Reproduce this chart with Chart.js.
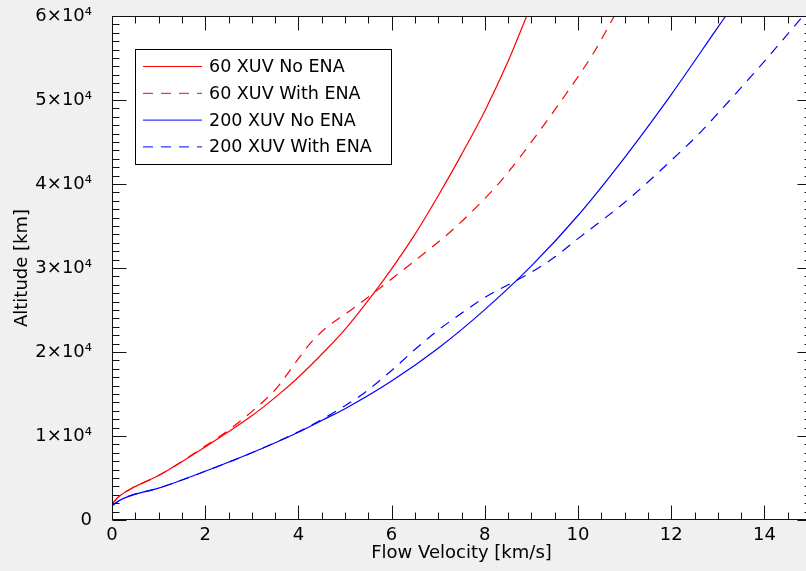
<!DOCTYPE html>
<html><head><meta charset="utf-8">
<script src="https://cdn.jsdelivr.net/npm/chart.js@4/dist/chart.umd.min.js"></script>
<style>html,body{margin:0;padding:0;overflow:hidden;background:#f0f0f0;width:806px;height:571px}canvas{display:block}</style>
</head><body><canvas id="c" width="820" height="571"></canvas>
<script>
// ---- data ----
const xTickValues = [0, 2, 4, 6, 8, 10, 12, 14];
const yTickValues = [0, 10000, 20000, 30000, 40000, 50000, 60000];
const seriesLabels = ['60 XUV No ENA', '60 XUV With ENA', '200 XUV No ENA', '200 XUV With ENA'];

const red60NoV   = [0, 0.15, 0.4, 1, 2, 3, 3.6, 4, 4.6, 5, 5.61, 6, 6.5, 7, 7.5, 8, 8.5, 8.9];
const red60NoAlt = [1900, 2800, 3700, 5300, 8700, 12400, 15040, 17000, 20300, 22700, 26960, 29900, 34000, 38600, 43500, 48700, 54600, 60000];

const red60EnaV   = [0, 0.15, 0.4, 1, 2, 2.5, 3, 3.5, 3.7, 4, 4.25, 4.6, 5, 5.25, 5.6, 6, 6.6, 7.3, 7.9, 8.33, 8.76, 9.6, 10.33, 10.78];
const red60EnaAlt = [1900, 2800, 3700, 5300, 8800, 10700, 12900, 15500, 16900, 19200, 21000, 22900, 24500, 25500, 26960, 28700, 31300, 34500, 37700, 40260, 43240, 49600, 55570, 60000];

const blue200NoV   = [0, 0.15, 0.4, 1, 2, 3, 4, 4.5, 5, 6, 7, 8, 9, 10, 11, 12, 13, 13.17];
const blue200NoAlt = [1700, 2300, 2900, 3800, 5800, 8000, 10450, 11850, 13250, 16550, 20450, 25050, 30250, 36250, 43150, 50650, 58650, 60000];

const blue200EnaV   = [0, 0.15, 0.4, 1, 2, 3, 4, 4.5, 5, 5.36, 6, 6.5, 7, 7.5, 8, 8.5, 9, 9.5, 10, 11, 12, 12.6, 13, 13.9, 14.8];
const blue200EnaAlt = [1700, 2300, 2900, 3800, 5800, 8000, 10500, 11950, 13600, 14900, 17800, 20300, 22600, 24600, 26500, 28000, 29500, 31300, 33500, 37800, 42800, 46000, 48400, 53970, 59800];

const xMax = 15, yMax = 60000, xMinorStep = 0.5, yMinorStep = 1000;

const pts = (vs, as) => vs.map((v, i) => ({x: v, y: as[i]}));
const FONT = 'DejaVu Sans';

const framePlugin = {
  id: 'frame',
  beforeDraw(chart) {
    const {ctx, chartArea: a} = chart;
    ctx.save();
    ctx.fillStyle = '#f0f0f0';
    ctx.fillRect(0, 0, chart.width, chart.height);
    ctx.fillStyle = '#ffffff';
    ctx.fillRect(a.left, a.top, a.right - a.left, a.bottom - a.top);
    ctx.restore();
  },
  afterDraw(chart) {
    const {ctx, chartArea: a, scales} = chart;
    const xs = scales.x, ys = scales.y;
    ctx.save();
    ctx.strokeStyle = '#111';
    ctx.lineWidth = 1;
    const L = Math.round(a.left) + 0.5, R = Math.round(a.right) + 0.5;
    const T = Math.round(a.top) + 0.5, B = Math.round(a.bottom) - 0.5;
    ctx.strokeRect(L, T, R - L, B - T);
    ctx.beginPath();
    for (let v = 0; v <= xMax + 1e-9; v += xMinorStep) {
      const px = Math.round(xs.getPixelForValue(v)) + 0.5;
      const len = xTickValues.includes(v) ? 14 : 7;
      ctx.moveTo(px, B); ctx.lineTo(px, B - len);
      ctx.moveTo(px, T); ctx.lineTo(px, T + len);
    }
    for (let v = 0; v <= yMax; v += yMinorStep) {
      const py = Math.round(ys.getPixelForValue(v)) + 0.5;
      const len = yTickValues.includes(v) ? 14 : 7;
      ctx.moveTo(L, py); ctx.lineTo(L + len, py);
      ctx.moveTo(R, py); ctx.lineTo(R - len, py);
    }
    ctx.stroke();

    // legend box inside the plot
    const bx = 135.5, by = 49.5, bw = 256, bh = 115;
    ctx.fillStyle = '#fff';
    ctx.fillRect(bx, by, bw, bh);
    ctx.strokeStyle = '#000';
    ctx.strokeRect(bx, by, bw, bh);
    ctx.font = '17.5px "' + FONT + '"';
    ctx.textBaseline = 'middle';
    ctx.textAlign = 'left';
    chart.data.datasets.forEach((ds, i) => {
      const yy = 66.5 + i * 26.8;
      ctx.beginPath();
      ctx.strokeStyle = ds.borderColor;
      ctx.lineWidth = 1;
      ctx.setLineDash(ds.borderDash || []);
      ctx.moveTo(143, yy); ctx.lineTo(202, yy);
      ctx.stroke();
      ctx.setLineDash([]);
      ctx.fillStyle = '#000';
      ctx.fillText(ds.label, 209, yy + 1);
    });
    ctx.restore();
  }
};

const dash = [10, 8];
new Chart(document.getElementById('c'), {
  type: 'line',
  data: {
    datasets: [
      {label: seriesLabels[0], data: pts(red60NoV, red60NoAlt), borderColor: '#ff0000', borderWidth: 1.2},
      {label: seriesLabels[1], data: pts(red60EnaV, red60EnaAlt), borderColor: '#ff0000', borderWidth: 1.2, borderDash: dash},
      {label: seriesLabels[2], data: pts(blue200NoV, blue200NoAlt), borderColor: '#0000ff', borderWidth: 1.2},
      {label: seriesLabels[3], data: pts(blue200EnaV, blue200EnaAlt), borderColor: '#0000ff', borderWidth: 1.2, borderDash: dash}
    ]
  },
  options: {
    responsive: false,
    animation: false,
    devicePixelRatio: 1,
    layout: {padding: {left: 0, top: 16, right: 9, bottom: 0}},
    elements: {point: {radius: 0}, line: {cubicInterpolationMode: 'monotone', fill: false}},
    plugins: {legend: {display: false}, tooltip: {enabled: false}},
    scales: {
      x: {
        type: 'linear', min: 0, max: xMax,
        grid: {display: false}, border: {display: false},
        afterBuildTicks: s => { s.ticks = xTickValues.map(v => ({value: v})); },
        afterFit: s => { s.height = 51; s.paddingLeft = 0; s.paddingRight = 0; },
        ticks: {autoSkip: false, maxRotation: 0, padding: -3, color: '#000', font: {family: FONT, size: 18}},
        title: {display: true, text: 'Flow Velocity [km/s]', color: '#000', font: {family: FONT, size: 18}, padding: {top: 0, bottom: 7}}
      },
      y: {
        type: 'linear', min: 0, max: yMax,
        grid: {display: false}, border: {display: false},
        afterBuildTicks: s => { s.ticks = yTickValues.map(v => ({value: v})); },
        afterFit: s => { s.width = 112; s.paddingTop = 0; s.paddingBottom = 0; },
        ticks: {padding: 12, color: '#000', font: {family: FONT, size: 18},
          callback: v => v === 0 ? '0' : (v / 10000) + '×10⁴'},
        title: {display: true, text: 'Altitude [km]', color: '#000', font: {family: FONT, size: 18}, padding: {top: 12, bottom: 0}}
      }
    }
  },
  plugins: [framePlugin]
});
</script>
</body></html>
